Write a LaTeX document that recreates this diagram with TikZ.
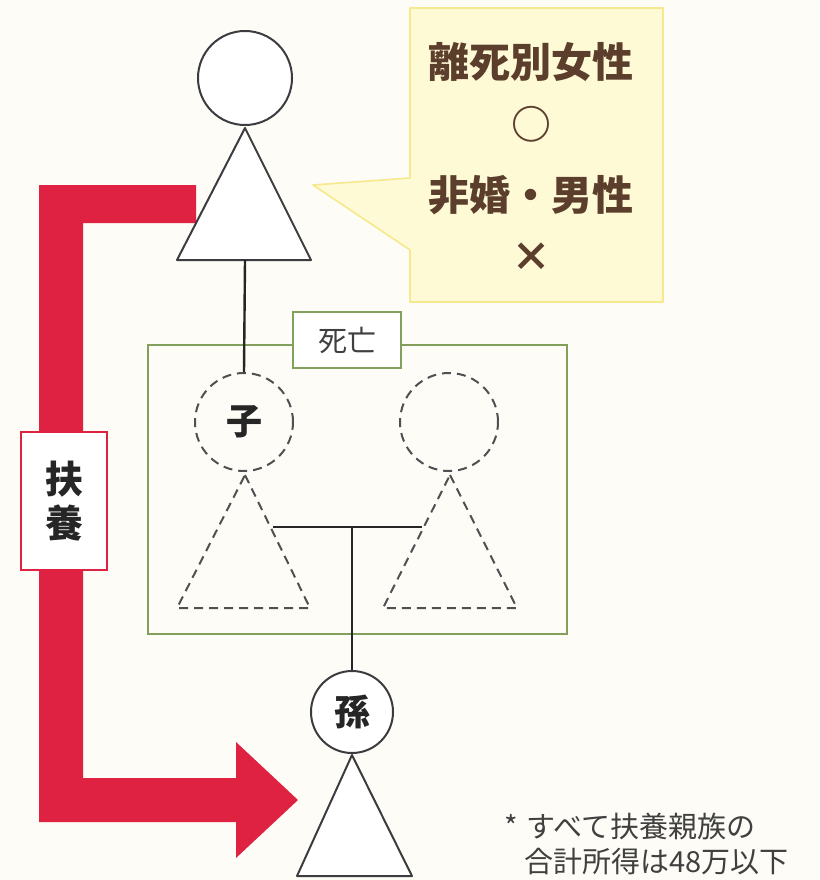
\documentclass[tikz,border=0pt]{standalone}
\usepackage{fontspec}
\setmainfont{Noto Sans CJK JP}
\usetikzlibrary{positioning}
\definecolor{fuyoured}{RGB}{224,34,66}
\definecolor{callfill}{RGB}{255,250,214}
\definecolor{callline}{RGB}{246,232,140}
\definecolor{deadgreen}{RGB}{130,160,92}
\definecolor{inkbrown}{RGB}{92,62,44}
\definecolor{paper}{RGB}{253,252,246}
\definecolor{figline}{RGB}{60,60,64}
\tikzset{
    person/.style = {circle, draw=figline, line width=2pt, fill=white, minimum size=94pt, inner sep=0pt},
    ghost/.style = {circle, draw=figline!90, line width=2pt, dash pattern=on 9pt off 6pt, minimum size=98pt, inner sep=0pt},
    body/.style = {draw=figline, line width=2pt, fill=white, line join=round},
    ghostbody/.style = {draw=figline!90, line width=2pt, dash pattern=on 9pt off 6pt},
    tie/.style = {draw=black!85, line width=2.4pt},
    tagtext/.style = {font=\fontsize{36}{40}\selectfont\bfseries, text=black!85},
    saytext/.style = {font=\fontsize{41}{46}\selectfont\bfseries, text=inkbrown},
    marktext/.style = {font=\fontsize{40}{44}\selectfont\bfseries, text=inkbrown}
}
\begin{document}
\begin{tikzpicture}[x=1pt, y=-1pt]
    \useasboundingbox (0,0) rectangle (819,880);
    \fill[paper] (0,0) rectangle (819,880);

    % Speech bubble
    \filldraw[fill=callfill, draw=callline, line width=1.6pt, line join=round]
        (410,8) -- (663,8) -- (663,302) -- (410,302) -- (410,250) -- (313,185) -- (410,178) -- cycle;
    \node[saytext] (ok) at (531,62) {離死別女性};
    \node[marktext] (okmark) at (531,124) {○};
    \node[saytext] (ng) at (531,195) {非婚・男性};
    \node[marktext] (ngmark) at (531,257) {×};

    % Support arrow
    \fill[fuyoured] (39,185) -- (196,185) -- (196,223) -- (83,223) -- (83,778) -- (236,778)
        -- (236,742) -- (298,800) -- (236,858) -- (236,822) -- (39,822) -- cycle;
    \node[draw=fuyoured, line width=2.5pt, fill=white, minimum width=86pt, minimum height=138pt,
        align=center, font=\fontsize{38}{44}\selectfont\bfseries, text=black!85] (fuyou) at (64,501) {扶\\養};

    % Deceased frame
    \draw[deadgreen, line width=1.2pt] (148,345) rectangle (567,634);
    \node[draw=deadgreen, line width=1.2pt, fill=white, minimum width=108pt, minimum height=56pt,
        font=\fontsize{29}{32}\selectfont, text=black!75] (dead) at (347,340) {死亡};

    % Parent
    \node[person] (parent) at (245,78) {};
    \filldraw[body] (245,128) -- (311,260) -- (177,260) -- cycle;
    \coordinate (parentfoot) at (245,260);

    % Child and spouse
    \node[ghost, tagtext] (child) at (244,422) {子};
    \draw[ghostbody] (245,475) -- (310,608) -- (177,608) -- cycle;
    \node[ghost] (spouse) at (449,422) {};
    \draw[ghostbody] (450,475) -- (517,608) -- (383,608) -- cycle;
    \coordinate (childside) at (273,527);
    \coordinate (spouseside) at (422,527);
    \coordinate (couple) at (352,527);

    % Grandchild
    \node[person, tagtext, minimum size=82pt] (grand) at (352,712) {孫};
    \filldraw[body] (352,755) -- (412,876) -- (297,876) -- cycle;

    % Lines
    \draw[tie] (parentfoot) -- (child.north);
    \draw[tie] (childside) -- (spouseside);
    \draw[tie] (couple) -- (grand.north);

    % Note
    \node[anchor=north west, align=left, inner sep=0pt, font=\fontsize{29}{35}\selectfont, text=black!75]
        (note) at (504,813) {*\hspace{9pt}すべて扶養親族の\\\hspace{20pt}合計所得は48万以下};
\end{tikzpicture}
\end{document}
